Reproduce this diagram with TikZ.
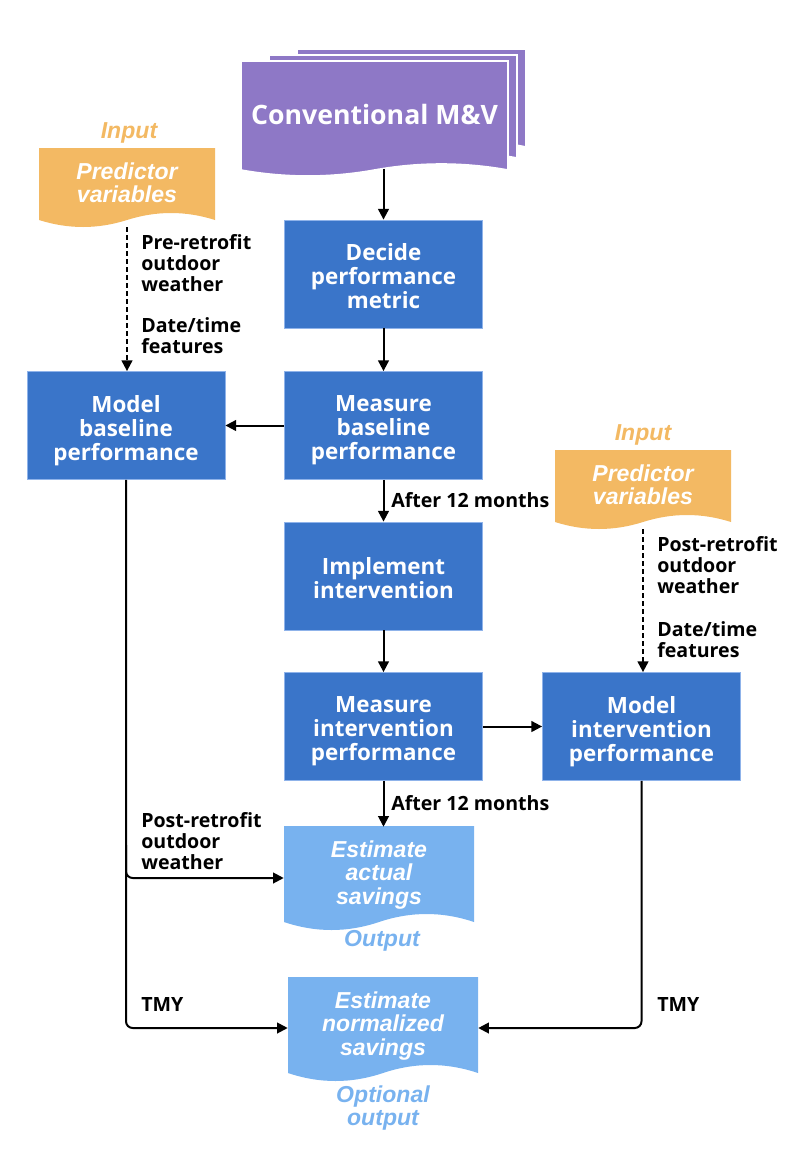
\documentclass[tikz,border=0pt]{standalone}
\usepackage{fontspec}
\setmainfont{Open Sans}
\newfontfamily\arialf{Liberation Sans}
\usetikzlibrary{arrows.meta,calc}
\definecolor{mvpurple}{HTML}{8E78C6}
\definecolor{mvorange}{HTML}{F3B963}
\definecolor{mvblue}{HTML}{3A75C9}
\definecolor{mvblueedge}{HTML}{8FB3EA}
\definecolor{mvlight}{HTML}{78B2EF}
\newcommand{\docshape}[6]{%
 \path[#1] (#2,#3) -- (#4,#3) -- (#4,#5)
  .. controls ({#4-(#4-#2)/6},{#5-4/3*#6}) and ({(#2+#4)/2+(#4-#2)/6},{#5-4/3*#6}) .. ({(#2+#4)/2},#5)
  .. controls ({(#2+#4)/2-(#4-#2)/6},{#5+4/3*#6}) and ({#2+(#4-#2)/6},{#5+4/3*#6}) .. (#2,#5) -- cycle;}
\tikzset{
  procbox/.style={draw=mvblueedge, line width=0.6pt, fill=mvblue,
    minimum width=148.5pt, minimum height=81pt, inner sep=0pt},
  boxtext/.style={text=white, align=center, inner sep=0pt, yshift=-4.5pt,
    font=\fontsize{16.8}{18}\selectfont\bfseries,
    execute at begin node=\strut, execute at end node=\strut},
  doctext/.style={inner sep=0pt, align=center, text=white,
    font=\arialf\fontsize{17.3}{17.5}\selectfont\bfseries\itshape},
  taglabel/.style={inner sep=0pt, align=center, font=\arialf\fontsize{17.3}{17.5}\selectfont\bfseries\itshape},
  edgelabel/.style={inner sep=0pt, anchor=west, align=left,
    font=\fontsize{14.7}{15.75}\selectfont\bfseries},
  conn/.style={line width=1.5pt, -{Triangle[length=8pt,width=8pt]}},
  dconn/.style={conn, dash pattern=on 3.75pt off 2.25pt},
}
\begin{document}
\begin{tikzpicture}[x=0.75pt,y=-0.75pt]
\useasboundingbox (0,0) rectangle (806,1150);

% Conventional M&V stacked documents
\docshape{fill=mvpurple, draw=white, line width=1.2pt}{297}{49}{526}{147}{6}
\docshape{fill=mvpurple, draw=white, line width=1.2pt}{269}{55}{517}{158}{6}
\docshape{fill=mvpurple, draw=white, line width=1.2pt}{241}{61}{508}{170}{6}
\node[inner sep=0pt, minimum width=200.25pt, minimum height=81.75pt, text=white,
  font=\fontsize{20}{24}\selectfont\bfseries] (cmv) at (374.5,114) {Conventional M\&V};

% process boxes
\node[procbox] (decide) at (383.5,274) {};
\node[boxtext] (decide-t) at (decide.center) {Decide\\performance\\metric};
\node[procbox] (mbp) at (383.5,425.5) {};
\node[boxtext] (mbp-t) at (mbp.center) {Measure\\baseline\\performance};
\node[procbox] (modb) at (126,425.5) {};
\node[boxtext] (modb-t) at (modb.center) {Model\\baseline\\performance};
\node[procbox] (impl) at (383.5,576) {};
\node[boxtext] (impl-t) at (impl.center) {Implement\\intervention};
\node[procbox] (mip) at (383.5,726.5) {};
\node[boxtext] (mip-t) at (mip.center) {Measure\\intervention\\performance};
\node[procbox] (modi) at (641.5,726.5) {};
\node[boxtext] (modi-t) at (modi.center) {Model\\intervention\\performance};

% input documents
\docshape{fill=mvorange}{39}{148}{215}{220}{7}
\node[doctext, minimum width=132pt, minimum height=54pt] (inL) at (127,183) {Predictor\\variables};
\node[taglabel, text=mvorange] (tagL) at (129,133) {Input};
\docshape{fill=mvorange}{555}{450}{731}{522}{7}
\node[doctext, minimum width=132pt, minimum height=54pt] (inR) at (643,485) {Predictor\\variables};
\node[taglabel, text=mvorange] (tagR) at (643,435) {Input};

% output documents
\docshape{fill=mvlight}{284}{826}{474}{922}{8}
\node[doctext, minimum width=142.5pt, minimum height=72pt] (ea) at (379,875) {Estimate\\actual\\savings};
\node[taglabel, text=mvlight] (tagO) at (382,941) {Output};
\docshape{fill=mvlight}{288}{977}{478}{1073}{8}
\node[doctext, minimum width=142.5pt, minimum height=72pt] (en) at (383,1026) {Estimate\\normalized\\savings};
\node[taglabel, text=mvlight] (tagOO) at (383,1108) {Optional\\output};

% connectors
\draw[conn] (cmv.south -| decide.north) -- (decide.north);
\draw[conn] (decide.south) -- (mbp.north);
\draw[conn] (mbp.west) -- (modb.east);
\draw[conn] (mbp.south) -- (impl.north);
\draw[conn] (impl.south) -- (mip.north);
\draw[conn] (mip.east) -- (mip.east -| modi.west);
\draw[conn] (mip.south) -- (mip.south |- ea.north);
\draw[dconn] (inL.south) ++(0,8) coordinate (inLs) -- (inLs |- modb.north);
\draw[dconn] (inR.south) ++(0,8) coordinate (inRs) -- (inRs |- modi.north);
\draw[conn, rounded corners=5pt] (modb.south) -- ($(modb.south |- en.west)+(0,2)$) -- ($(en.west)+(0,2)$);
\draw[conn, rounded corners=5pt] ($(modb.south |- ea.west)+(0,-30)$) -- ($(modb.south |- ea.west)+(0,3)$) -- ($(ea.west)+(0,3)$);
\draw[conn, rounded corners=5pt] (modi.south) -- ($(modi.south |- en.east)+(0,2)$) -- ($(en.east)+(0,2)$);

% edge labels
\node[edgelabel] (l1) at (141,263) {Pre-retrofit\\outdoor\\weather};
\node[edgelabel] (l2) at (141,336) {Date/time\\features};
\node[edgelabel] (l3) at (391,500) {After 12 months};
\node[edgelabel] (l4) at (657,565) {Post-retrofit\\outdoor\\weather};
\node[edgelabel] (l5) at (657,640) {Date/time\\features};
\node[edgelabel] (l6) at (391,803) {After 12 months};
\node[edgelabel] (l7) at (141,841) {Post-retrofit\\outdoor\\weather};
\node[edgelabel] (l8) at (141,1004) {TMY};
\node[edgelabel] (l9) at (657,1004) {TMY};
\end{tikzpicture}
\end{document}
